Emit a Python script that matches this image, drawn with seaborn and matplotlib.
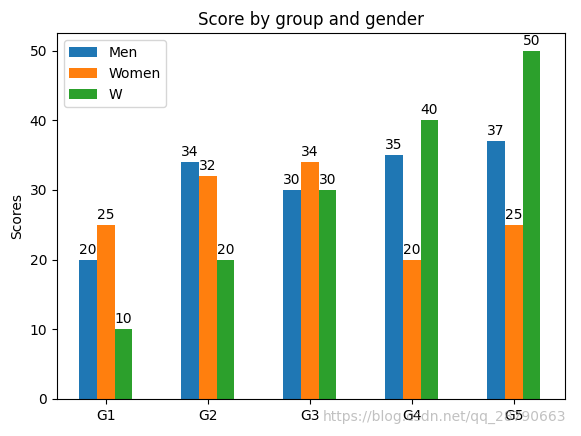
import pandas as pd
import matplotlib
matplotlib.use("Agg")
import matplotlib.pyplot as plt
import seaborn as sns

groups = ['G1', 'G2', 'G3', 'G4', 'G5']
men = [20, 34, 30, 35, 37]
women = [25, 32, 34, 20, 25]
w = [10, 20, 30, 40, 50]

df = pd.DataFrame({
    'group': groups * 3,
    'score': men + women + w,
    'series': ['Men'] * 5 + ['Women'] * 5 + ['W'] * 5,
})

fig = plt.figure(figsize=(5.81, 4.36), dpi=100)
ax = fig.add_axes([0.098, 0.085, 0.874, 0.839])
sns.barplot(data=df, x='group', y='score', hue='series', ax=ax,
            palette=['#1f77b4', '#ff7f0e', '#2ca02c'], width=0.52,
            saturation=1, errorbar=None)

for c in ax.containers:
    ax.bar_label(c, padding=2, fontsize=10)

ax.set_title('Score by group and gender')
ax.set_ylabel('Scores')
ax.set_xlabel('')
ax.set_ylim(0, 52.5)
ax.set_xlim(-0.48, 4.5)
ax.legend(loc='upper left')

fig.text(0.975, 0.035, 'https://blog.csdn.net/qq_28790663', ha='right',
         fontsize=10, color='#999999', alpha=0.6)

fig.savefig('out.png', dpi=100)
